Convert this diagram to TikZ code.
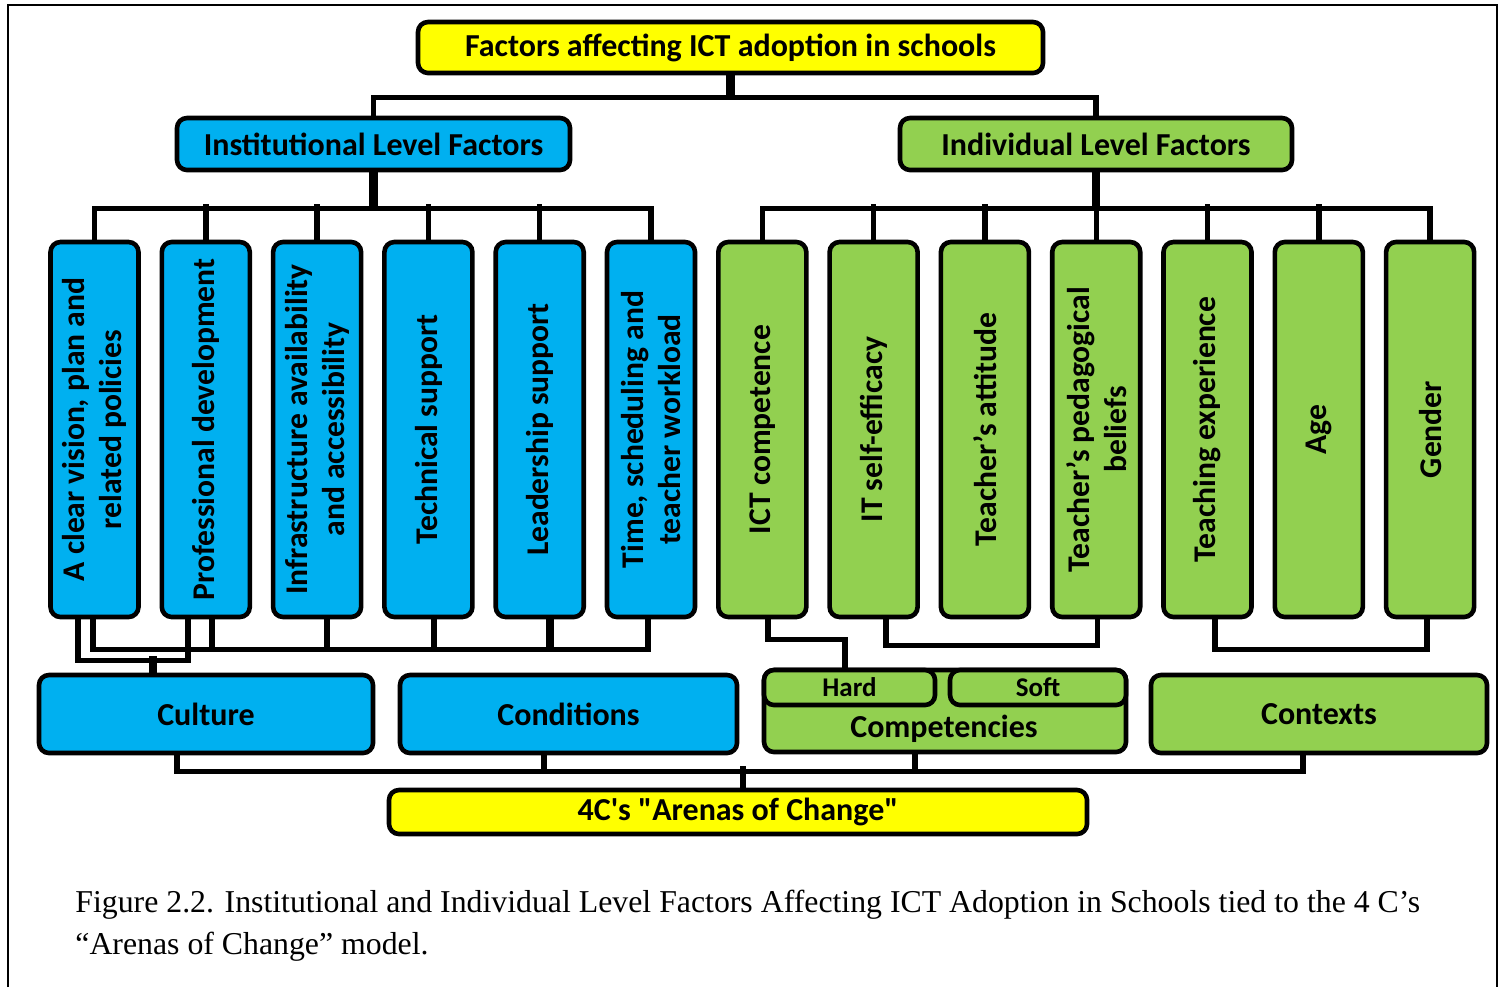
\documentclass[tikz,border=0pt]{standalone}
\usepackage{fontspec}
\setmainfont{Liberation Serif}
\newfontfamily\calb{Carlito}[Ligatures=TeXOff]
\usetikzlibrary{calc}
\definecolor{cblue}{HTML}{00B0F0}
\definecolor{cgreen}{HTML}{92D050}
\definecolor{cyell}{HTML}{FFFF00}
\begin{document}
\begin{tikzpicture}[x=0.5pt,y=-0.5pt,
  box/.style={draw=black, line width=2.3pt, rounded corners=5pt, inner sep=0pt,
    font={\calb\bfseries\fontsize{16pt}{19pt}\selectfont}},
  sz/.style 2 args={minimum width=#1*0.5pt, minimum height=#2*0.5pt},
  tall/.style={box, sz={88}{375}},
  lbl/.style={rotate=90, align=center, inner sep=0pt,
    font={\calb\bfseries\fontsize{15.8pt}{18.5pt}\selectfont}},
  small/.style={font={\calb\bfseries\fontsize{13.5pt}{16pt}\selectfont}},
  conn/.style={line width=2.7pt},
  stem/.style={line width=4.2pt},
  captxt/.style={anchor=base west, inner sep=0pt, font={\fontsize{15.9pt}{21.5pt}\selectfont}},
]
\useasboundingbox (0,0) rectangle (1504,987);
% frame
\draw[line width=1.3pt] (8,987) -- (8,5) -- (1497,5) -- (1497,987);

% headers
\node[box, fill=cyell, sz={625}{51}] (title) at (730.5,47.5) {Factors affecting ICT adoption in schools};
\node[box, fill=cblue, sz={393}{52}] (inst) at (373.5,144) {Institutional Level Factors};
\node[box, fill=cgreen, sz={392}{52}] (indiv) at (1096,144) {Individual Level Factors};

% tall boxes
\node[tall, fill=cblue] (b1) at (94.5,429.5) {};
\node[tall, fill=cblue] (b2) at (205.8,429.5) {};
\node[tall, fill=cblue] (b3) at (317.1,429.5) {};
\node[tall, fill=cblue] (b4) at (428.4,429.5) {};
\node[tall, fill=cblue] (b5) at (539.7,429.5) {};
\node[tall, fill=cblue] (b6) at (651.0,429.5) {};
\node[tall, fill=cgreen] (b7) at (762.3,429.5) {};
\node[tall, fill=cgreen] (b8) at (873.6,429.5) {};
\node[tall, fill=cgreen] (b9) at (984.9,429.5) {};
\node[tall, fill=cgreen] (b10) at (1096.2,429.5) {};
\node[tall, fill=cgreen] (b11) at (1207.5,429.5) {};
\node[tall, fill=cgreen] (b12) at (1318.8,429.5) {};
\node[tall, fill=cgreen] (b13) at (1430.1,429.5) {};

\node[lbl] (t1) at (b1) {A clear vision, plan and\\related policies};
\node[lbl] (t2) at (b2) {Professional development};
\node[lbl] (t3) at (b3) {Infrastructure availability\\and accessibility};
\node[lbl] (t4) at (b4) {Technical support};
\node[lbl] (t5) at (b5) {Leadership support};
\node[lbl] (t6) at (b6) {Time, scheduling and\\teacher workload};
\node[lbl] (t7) at (b7) {ICT competence};
\node[lbl] (t8) at (b8) {IT self-efficacy};
\node[lbl] (t9) at (b9) {Teacher’s attitude};
\node[lbl] (t10) at (b10) {Teacher’s pedagogical\\beliefs};
\node[lbl] (t11) at (b11) {Teaching experience};
\node[lbl] (t12) at (b12) {Age};
\node[lbl] (t13) at (b13) {Gender};

% lower boxes
\node[box, fill=cblue, sz={334}{78}] (cul) at (206,714) {Culture};
\node[box, fill=cblue, sz={337}{78}] (con) at (568.5,714) {Conditions};
\node[box, fill=cgreen, sz={362}{82}] (comp) at (945,711) {};
\node[box, small, fill=cgreen, sz={171}{35}] (hard) at (849.5,687.5) {Hard};
\node[box, small, fill=cgreen, sz={176}{35}] (soft) at (1038,687.5) {Soft};
\node[inner sep=0pt, font={\calb\bfseries\fontsize{16pt}{19pt}\selectfont}] (compt) at (944,729) {Competencies};
\node[box, fill=cgreen, sz={336}{78}] (ctx) at (1319,714) {Contexts};
\node[box, fill=cyell, sz={698}{44}] (arena) at (738,812) {4C's "Arenas of Change"};

% top connectors
\draw[stem] (title.south) -- ++(0,22);
\draw[conn] (inst.north) |- ($(title.south)+(0,22)$) -| (indiv.north);
\draw[stem] (inst.south) -- ++(0,36);
\draw[stem] (indiv.south) -- ++(0,36);
\draw[conn] (b1.north) |- ($(inst.south)+(0,36)$) -| (b6.north);
\foreach \b in {b2,b3,b4,b5} \draw[conn] (\b.north) -- ++(0,-36);
\draw[conn] (b7.north) |- ($(indiv.south)+(0,36)$) -| (b13.north);
\foreach \b in {b8,b9,b10,b11,b12} \draw[conn] (\b.north) -- ++(0,-36);

% culture bracket
\draw[conn] ($(b1.south)+(-16.5,0)$) |- ($(b2.south)+(-18,41)$) -- ($(b2.south)+(-18,0)$);
\draw[stem] ($(cul.north)+(-53,0)$) -- ++(0,-17);
% conditions bus
\draw[conn] ($(b1.south)+(-1.5,0)$) |- ($(b6.south)+(-3,30)$) -- ($(b6.south)+(-3,0)$);
\draw[conn] ($(b2.south)+(6,0)$) -- ++(0,30);
\draw[conn] ($(b3.south)+(10,0)$) -- ++(0,30);
\draw[conn] ($(b4.south)+(5.6,0)$) -- ++(0,30);
\draw[conn] ($(b5.south)+(10,0)$) -- ++(0,30);
\draw[stem] ($(b5.south)+(10,30)$) -- ($(b5.south)+(10,0)$ |- con.north);

% competencies
\draw[conn] ($(b7.south)+(5.7,0)$) |- ($(hard.north)+(-4.5,-28)$) -- ($(hard.north)+(-4.5,0)$);
\draw[conn] ($(b8.south)+(12.4,0)$) |- ($(b10.south)+(1,26)$) -- ($(b10.south)+(1,0)$);
\draw[conn] ($(b9.south)+(17,0)$) -- ($(b9.south)+(17,0)$ |- soft.north);
% contexts
\draw[conn] ($(b11.south)+(7.5,0)$) |- ($(b13.south)+(-3,30)$) -- ($(b13.south)+(-3,0)$);
\draw[conn] ($(b12.south)+(13,0)$) -- ($(b12.south)+(13,0)$ |- ctx.north);

% bottom bus
\draw[conn] ($(cul.south)+(-29,0)$) |- ($(ctx.south)+(-16,16)$) -- ($(ctx.south)+(-16,0)$);
\draw[conn] ($(con.south)+(-24.5,0)$) -- ++(0,16);
\draw[conn] ($(comp.south)+(-30,0)$) -- ++(0,17);
\draw[conn] ($(arena.north)+(5,0)$) -- ++(0,-22);

% caption
\node[captxt] (cap1) at (75,912) {Figure 2.2. Institutional and Individual Level Factors Affecting ICT Adoption in Schools tied to the 4 C’s};
\node[captxt] (cap2) at (75,954) {“Arenas of Change” model.};
\end{tikzpicture}
\end{document}
